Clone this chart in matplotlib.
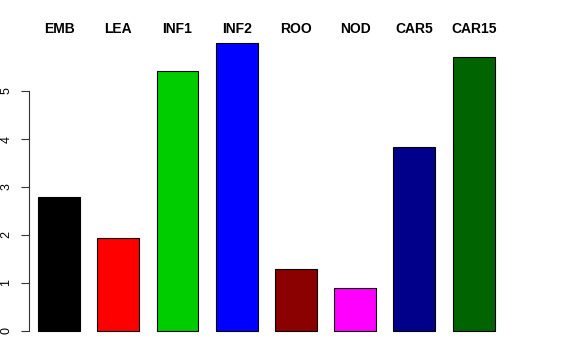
import matplotlib
matplotlib.use("Agg")
import matplotlib.pyplot as plt
import matplotlib.transforms as mtransforms

# Data
labels = ['EMB', 'LEA', 'INF1', 'INF2', 'ROO', 'NOD', 'CAR5', 'CAR15']
values = [2.79, 1.94, 5.42, 6.0, 1.29, 0.90, 3.84, 5.71]
colors = ['black', 'red', '#00CD00', 'blue', '#8B0000', 'magenta', '#00008B', '#006400']
yticks = [0, 1, 2, 3, 4, 5]

plt.rcParams['font.family'] = ['Liberation Sans', 'DejaVu Sans']

W, H = 576, 360
fig = plt.figure(figsize=(W / 100, H / 100), dpi=100)
# axes placed in pixel terms (R barplot look)
ax = fig.add_axes([28.5 / W, 17.5 / H, 538.9 / W, 311 / H])

x = [0.7 + 1.2 * i for i in range(len(values))]
ax.bar(x, values, width=0.85, color=colors, edgecolor='black', linewidth=0.8)

ax.set_xlim(0.081, 11)
ax.set_ylim(-0.24, 6.24)

for s in ['top', 'right', 'bottom']:
    ax.spines[s].set_visible(False)
ax.spines['left'].set_bounds(0, 5)
ax.spines['left'].set_color('#333333')
ax.set_xticks([])
ax.set_yticks(yticks)
ax.set_yticklabels([str(t) for t in yticks], rotation=90, va='center', fontsize=9)
ax.tick_params(axis='y', length=5.5, width=0.8, color='#333333', pad=6)

trans = mtransforms.blended_transform_factory(ax.transData, fig.transFigure)
for xi, lab in zip(x, labels):
    ax.text(xi, 1 - 29 / H, lab, transform=trans, ha='center', va='center',
            fontsize=10, fontweight='bold', clip_on=False)

fig.savefig('out.png', dpi=100)
